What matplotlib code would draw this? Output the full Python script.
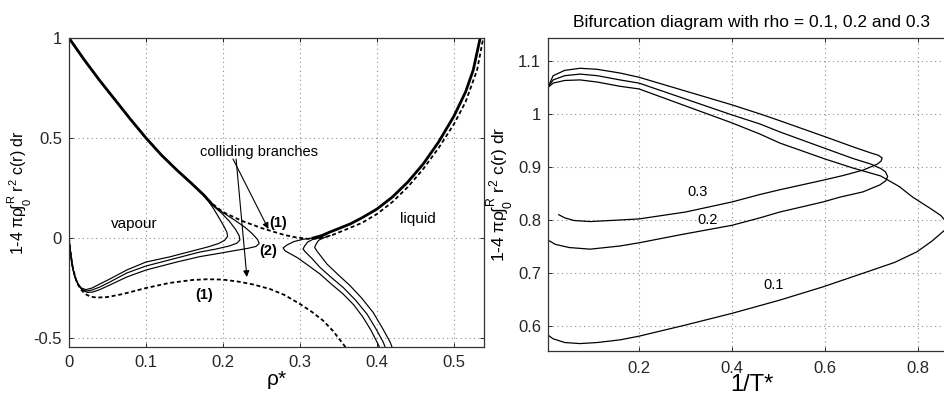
import matplotlib
matplotlib.use('Agg')
import matplotlib.pyplot as plt

# ---- left panel: 1-4 pi rho int r^2 c(r) dr versus rho* ----
rho_upper_left = [0.0, 0.02, 0.04, 0.06, 0.08, 0.1, 0.12, 0.14, 0.16, 0.175, 0.185]
c_upper_left = [1.0, 0.89, 0.787, 0.69, 0.593, 0.5, 0.415, 0.34, 0.27, 0.215, 0.172]

rho_upper_right = [0.317, 0.328, 0.339, 0.352, 0.365, 0.38, 0.4, 0.42, 0.44, 0.46, 0.48, 0.5, 0.515, 0.525, 0.534]
c_upper_right = [0.0, 0.012, 0.03, 0.05, 0.07, 0.1, 0.145, 0.205, 0.28, 0.37, 0.48, 0.61, 0.73, 0.84, 1.0]

# vapour-side branches (three solid curves)
rho_nose_a = [0.175, 0.182, 0.188, 0.195, 0.201, 0.205, 0.206, 0.202, 0.194, 0.18, 0.16, 0.13, 0.1, 0.075,
              0.053, 0.04, 0.03, 0.022, 0.016, 0.011, 0.007, 0.004, 0.002, 0.0005, 0.0]
c_nose_a = [0.215, 0.18, 0.145, 0.1, 0.06, 0.03, 0.008, -0.012, -0.028, -0.045, -0.065, -0.095, -0.12, -0.16,
            -0.205, -0.23, -0.25, -0.258, -0.25, -0.225, -0.185, -0.135, -0.075, -0.02, 0.0]

rho_nose_b = [0.175, 0.185, 0.198, 0.208, 0.216, 0.221, 0.222, 0.218, 0.208, 0.19, 0.17, 0.14, 0.1, 0.075,
              0.053, 0.04, 0.03, 0.023, 0.017, 0.012, 0.008, 0.005, 0.0025, 0.0008, 0.0]
c_nose_b = [0.215, 0.168, 0.125, 0.085, 0.045, 0.012, -0.01, -0.026, -0.04, -0.056, -0.07, -0.1, -0.14, -0.175,
            -0.22, -0.245, -0.26, -0.265, -0.257, -0.235, -0.2, -0.155, -0.095, -0.035, 0.0]

rho_nose_c = [0.175, 0.185, 0.2, 0.215, 0.228, 0.238, 0.245, 0.247, 0.243, 0.232, 0.215, 0.19, 0.17, 0.14,
              0.1, 0.075, 0.053, 0.04, 0.031, 0.024, 0.018, 0.013, 0.009, 0.0055, 0.003, 0.001, 0.0]
c_nose_c = [0.215, 0.17, 0.127, 0.09, 0.055, 0.022, -0.008, -0.027, -0.042, -0.052, -0.063, -0.08, -0.093, -0.12,
            -0.16, -0.195, -0.235, -0.258, -0.27, -0.272, -0.262, -0.24, -0.205, -0.16, -0.1, -0.04, 0.0]

# liquid-side branches (three solid curves)
rho_nose_d = [0.328, 0.317, 0.304, 0.292, 0.283, 0.278, 0.281, 0.288, 0.296, 0.31, 0.326, 0.34, 0.356, 0.37,
              0.382, 0.392, 0.4, 0.405]
c_nose_d = [0.012, 0.0, -0.006, -0.018, -0.035, -0.05, -0.065, -0.08, -0.097, -0.135, -0.18, -0.228, -0.28,
            -0.335, -0.397, -0.46, -0.52, -0.56]

rho_nose_e = [0.335, 0.325, 0.317, 0.31, 0.306, 0.304, 0.307, 0.315, 0.326, 0.34, 0.356, 0.372, 0.387, 0.398,
              0.408, 0.412]
c_nose_e = [0.02, 0.0, -0.006, -0.02, -0.04, -0.055, -0.07, -0.1, -0.147, -0.195, -0.247, -0.31, -0.38, -0.45,
            -0.52, -0.56]

rho_nose_f = [0.339, 0.33, 0.324, 0.321, 0.319, 0.322, 0.328, 0.335, 0.35, 0.365, 0.38, 0.395, 0.407, 0.417,
              0.421]
c_nose_f = [0.012, 0.0, -0.012, -0.03, -0.047, -0.065, -0.095, -0.13, -0.185, -0.238, -0.3, -0.372, -0.45,
            -0.52, -0.56]

# dashed curves (1)
rho_dash_upper = [0.0, 0.02, 0.04, 0.06, 0.08, 0.1, 0.12, 0.14, 0.16, 0.175, 0.185, 0.2, 0.225, 0.25, 0.265,
                  0.28, 0.295, 0.31, 0.325, 0.34, 0.36, 0.38, 0.4, 0.42, 0.44, 0.46, 0.48, 0.5, 0.515, 0.53, 0.538]
c_dash_upper = [1.0, 0.89, 0.787, 0.69, 0.593, 0.5, 0.415, 0.34, 0.27, 0.215, 0.175, 0.13, 0.085, 0.05, 0.032,
                0.015, 0.003, -0.004, -0.002, 0.012, 0.043, 0.075, 0.12, 0.18, 0.255, 0.345, 0.45, 0.57, 0.68,
                0.84, 1.0]

rho_dash_lower = [0.0, 0.002, 0.005, 0.01, 0.015, 0.021, 0.028, 0.036, 0.05, 0.07, 0.1, 0.13, 0.16, 0.18, 0.2,
                  0.22, 0.24, 0.261, 0.28, 0.3, 0.315, 0.33, 0.343, 0.356, 0.362]
c_dash_lower = [0.0, -0.07, -0.15, -0.22, -0.255, -0.28, -0.293, -0.298, -0.295, -0.28, -0.25, -0.225, -0.21,
                -0.206, -0.208, -0.218, -0.233, -0.255, -0.285, -0.33, -0.368, -0.413, -0.465, -0.53, -0.56]

# ---- right panel: bifurcation diagram, one curve per rho ----
t_rho03 = [0.004, 0.015, 0.04, 0.073, 0.11, 0.159, 0.2, 0.3, 0.4, 0.46, 0.5, 0.6, 0.66, 0.7, 0.715, 0.723,
           0.721, 0.712, 0.682, 0.64, 0.596, 0.503, 0.46, 0.4, 0.3, 0.2, 0.159, 0.095, 0.06, 0.04, 0.027]
c_rho03 = [1.05, 1.072, 1.082, 1.086, 1.084, 1.077, 1.069, 1.043, 1.017, 1.0, 0.988, 0.957, 0.938, 0.926, 0.922,
           0.917, 0.911, 0.905, 0.894, 0.884, 0.875, 0.857, 0.848, 0.834, 0.815, 0.802, 0.8, 0.797, 0.799, 0.804,
           0.81]

t_rho02 = [0.004, 0.015, 0.04, 0.073, 0.11, 0.159, 0.2, 0.3, 0.4, 0.46, 0.503, 0.6, 0.66, 0.7, 0.72, 0.73,
           0.735, 0.731, 0.718, 0.682, 0.632, 0.596, 0.503, 0.46, 0.4, 0.288, 0.2, 0.159, 0.095, 0.05, 0.02, 0.004]
c_rho02 = [1.05, 1.064, 1.072, 1.075, 1.072, 1.064, 1.058, 1.028, 0.998, 0.981, 0.966, 0.935, 0.916, 0.905,
           0.897, 0.891, 0.882, 0.874, 0.866, 0.853, 0.843, 0.834, 0.815, 0.804, 0.79, 0.772, 0.757, 0.751, 0.745,
           0.748, 0.754, 0.762]

t_rho01 = [0.004, 0.015, 0.04, 0.073, 0.11, 0.159, 0.2, 0.3, 0.4, 0.46, 0.503, 0.6, 0.66, 0.72, 0.76, 0.789,
           0.83, 0.85, 0.862, 0.858, 0.83, 0.798, 0.75, 0.69, 0.596, 0.503, 0.4, 0.3, 0.2, 0.159, 0.11, 0.073,
           0.04, 0.015, 0.004]
c_rho01 = [1.05, 1.058, 1.063, 1.064, 1.06, 1.052, 1.047, 1.015, 0.983, 0.962, 0.945, 0.915, 0.898, 0.883,
           0.863, 0.843, 0.82, 0.808, 0.795, 0.781, 0.76, 0.74, 0.72, 0.702, 0.674, 0.649, 0.624, 0.602, 0.581,
           0.574, 0.569, 0.567, 0.569, 0.576, 0.583]

plt.rcParams['font.family'] = ['Liberation Sans', 'DejaVu Sans']
plt.rcParams['mathtext.fontset'] = 'custom'
plt.rcParams['mathtext.rm'] = 'Liberation Sans'
plt.rcParams['mathtext.it'] = 'Liberation Sans'
plt.rcParams['mathtext.default'] = 'regular'

ylabel_txt = r'1-4 $\pi\rho\!\int_0^R$ r$^2$ c(r) dr'
grid_kw = dict(color='0.55', linestyle=(0, (1, 3)), linewidth=0.8)


def style_axes(ax, size):
    ax.grid(True, **grid_kw)
    ax.set_axisbelow(True)
    ax.tick_params(direction='in', length=3, top=True, right=True, labelsize=size,
                   colors='0.15', width=0.7)
    for s in ax.spines.values():
        s.set_color('0.2')
        s.set_linewidth(0.9)


fig = plt.figure(figsize=(9.45, 3.96), dpi=100)

# left panel
ax1 = fig.add_axes([0.0730, 0.1237, 0.4392, 0.7803])
style_axes(ax1, 12)
ax1.plot(rho_upper_left, c_upper_left, color='k', lw=2.0)
ax1.plot(rho_upper_right, c_upper_right, color='k', lw=2.0)
for xs, ys in [(rho_nose_a, c_nose_a), (rho_nose_b, c_nose_b), (rho_nose_c, c_nose_c),
               (rho_nose_d, c_nose_d), (rho_nose_e, c_nose_e), (rho_nose_f, c_nose_f)]:
    ax1.plot(xs, ys, color='k', lw=0.85)
ax1.plot(rho_dash_upper, c_dash_upper, color='k', lw=1.3, linestyle=(0, (2.2, 1.5)))
ax1.plot(rho_dash_lower, c_dash_lower, color='k', lw=1.3, linestyle=(0, (2.2, 1.5)))

ax1.set_xlim(0, 0.539)
ax1.set_ylim(-0.545, 1.0)
ax1.set_xticks([0, 0.1, 0.2, 0.3, 0.4, 0.5])
ax1.set_xticklabels(['0', '0.1', '0.2', '0.3', '0.4', '0.5'])
ax1.set_yticks([-0.5, 0, 0.5, 1])
ax1.set_yticklabels(['-0.5', '0', '0.5', '1'])
ax1.tick_params(axis='x', pad=6)
ax1.tick_params(axis='y', pad=5)
ax1.set_xlabel(r'$\rho$*', fontsize=15, labelpad=-1)
ax1.set_ylabel(ylabel_txt, fontsize=11.5)
ax1.yaxis.set_label_coords(-0.084, 0.5)

ax1.text(0.085, 0.07, 'vapour', fontsize=11, ha='center', va='center')
ax1.text(0.453, 0.095, 'liquid', fontsize=11, ha='center', va='center')
ax1.text(0.247, 0.432, 'colliding branches', fontsize=10.5, ha='center', va='center')
ax1.text(0.272, 0.075, '(1)', fontsize=10.5, fontweight='bold', ha='center', va='center')
ax1.text(0.259, -0.065, '(2)', fontsize=10.5, fontweight='bold', ha='center', va='center')
ax1.text(0.175, -0.285, '(1)', fontsize=10.5, fontweight='bold', ha='center', va='center')
arrow_kw = dict(arrowstyle='-|>', color='k', lw=0.8, mutation_scale=9, shrinkA=0, shrinkB=0)
ax1.annotate('', xy=(0.259, 0.045), xytext=(0.213, 0.395), arrowprops=arrow_kw)
ax1.annotate('', xy=(0.231, -0.195), xytext=(0.217, 0.395), arrowprops=arrow_kw)

# right panel
ax2 = fig.add_axes([0.5799, 0.1136, 0.4317, 0.7904])
style_axes(ax2, 12)
for xs, ys in [(t_rho03, c_rho03), (t_rho02, c_rho02), (t_rho01, c_rho01)]:
    ax2.plot(xs, ys, color='k', lw=0.9)
ax2.set_xlim(0.004, 0.882)
ax2.set_ylim(0.553, 1.143)
ax2.set_xticks([0.2, 0.4, 0.6, 0.8])
ax2.set_xticklabels(['0.2', '0.4', '0.6', '0.8'])
ax2.set_yticks([0.6, 0.7, 0.8, 0.9, 1.0, 1.1])
ax2.set_yticklabels(['0.6', '0.7', '0.8', '0.9', '1', '1.1'])
ax2.tick_params(axis='x', pad=7)
ax2.tick_params(axis='y', pad=5)
ax2.set_xlabel('1/T*', fontsize=17, labelpad=-1)
ax2.set_ylabel(ylabel_txt, fontsize=12.5)
ax2.yaxis.set_label_coords(-0.082, 0.5)
ax2.set_title('Bifurcation diagram with rho = 0.1, 0.2 and 0.3', fontsize=12.5, pad=8)

ax2.text(0.325, 0.853, '0.3', fontsize=10.5, ha='center', va='center')
ax2.text(0.348, 0.8, '0.2', fontsize=10.5, ha='center', va='center')
ax2.text(0.49, 0.677, '0.1', fontsize=10.5, ha='center', va='center')

fig.savefig('out.png', dpi=100)
plt.close(fig)
